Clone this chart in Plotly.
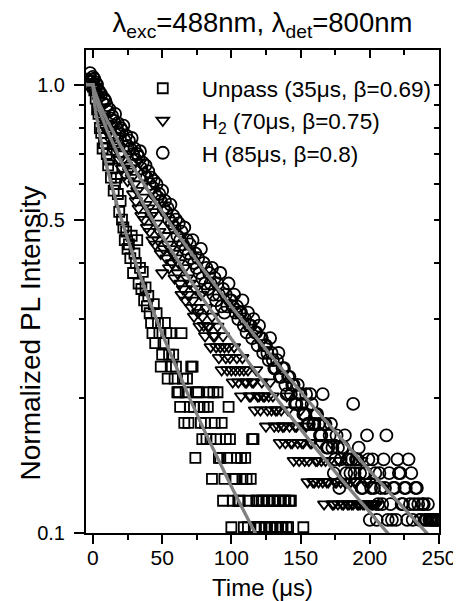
import plotly.graph_objects as go

# ---------------- data ----------------
# Unpassivated (squares): even times, then odd times
t_unpass = [-4, -2, 0, 2, 4, 6, 8, 10, 12, 14, 16, 18, 20, 22, 24, 26, 28, 30, 32, 34,
            36, 38, 40, 42, 44, 46, 48, 50, 52, 54, 56, 58, 60, 62, 64, 66, 68, 70, 72, 74,
            76, 78, 80, 82, 84, 86, 88, 90, 92, 94, 96, 98, 100, 102, 104, 106, 108, 110,
            112, 114, 116, 118, 120, 122, 124, 126, 128, 130, 132, 134, 136, 138, 140, 142, 152,
            1, 3, 5, 7, 9, 11, 13, 15, 17, 19, 21, 23, 25, 27, 29, 31, 33, 35, 37, 39, 41, 43,
            45, 47, 49, 51, 53, 55, 57, 59, 61, 63, 65, 67, 69, 71, 73, 75, 77, 79, 81, 83, 85,
            87, 89, 91, 93, 95, 97, 99, 101, 103, 105, 107, 109, 111, 113, 115, 117, 119, 121,
            123, 125, 127, 129, 131, 133, 135, 137, 139, 141, 143]
i_unpass = [1.00, 1.03, 0.99, 0.93, 0.86, 0.78, 0.74, 0.70, 0.68, 0.65, 0.60, 0.57, 0.55, 0.48,
            0.47, 0.44, 0.46, 0.42, 0.45, 0.39, 0.382, 0.353, 0.338, 0.294, 0.324, 0.309, 0.279,
            0.250, 0.294, 0.221, 0.279, 0.250, 0.235, 0.206, 0.279, 0.176, 0.221, 0.191, 0.235,
            0.147, 0.206, 0.176, 0.191, 0.162, 0.206, 0.132, 0.176, 0.206, 0.147, 0.118, 0.162,
            0.191, 0.103, 0.132, 0.147, 0.118, 0.132, 0.147, 0.103, 0.132, 0.162, 0.118, 0.103,
            0.118, 0.103, 0.118, 0.103, 0.118, 0.103, 0.118, 0.103, 0.118, 0.103, 0.118, 0.103,
            0.97, 0.88, 0.80, 0.72, 0.76, 0.66, 0.62, 0.58, 0.62, 0.52, 0.50, 0.45, 0.43, 0.41,
            0.38, 0.40, 0.36, 0.35, 0.33, 0.32, 0.309, 0.279, 0.265, 0.294, 0.235, 0.265, 0.279,
            0.250, 0.235, 0.221, 0.206, 0.191, 0.221, 0.206, 0.176, 0.235, 0.191, 0.206, 0.191,
            0.162, 0.176, 0.191, 0.162, 0.206, 0.162, 0.147, 0.176, 0.132, 0.147, 0.162, 0.118,
            0.132, 0.118, 0.147, 0.103, 0.132, 0.118, 0.162, 0.103, 0.118, 0.103, 0.118, 0.103,
            0.118, 0.103, 0.118, 0.103, 0.118, 0.103, 0.118, 0.103, 0.118]

# H2 passivated (down triangles)
t_h2 = [-4, -2, 0, 2, 4, 6, 8, 10, 12, 14, 16, 18, 20, 22, 24, 26, 28, 30, 32, 34, 36, 38,
        40, 42, 44, 46, 48, 50, 52, 54, 56, 58, 60, 62, 64, 66, 68, 70, 72, 74, 76, 78, 80,
        82, 84, 86, 88, 90, 92, 94, 96, 98, 100, 102, 104, 106, 108, 110, 112, 114, 116, 118,
        120, 122, 124, 126, 128, 130, 132, 134, 136, 138, 140, 142, 144, 146, 148, 150, 152,
        154, 156, 158, 160, 162, 164, 166, 168, 170, 172, 174, 176, 178, 180, 182, 184, 186,
        188, 190, 192, 194, 196, 198, 200, 202, 204,
        1, 3, 5, 7, 9, 11, 13, 15, 17, 19, 21, 23, 25, 27, 29, 31, 33, 35, 37, 39, 41, 43,
        45, 47, 49, 51, 53, 55, 57, 59, 61, 63, 65, 67, 69, 71, 73, 75, 77, 79, 81, 83, 85,
        87, 89, 91, 93, 95, 97, 99, 101, 103, 105, 107, 109, 111, 113, 115, 117, 119, 121,
        123, 125, 127, 129, 131, 133, 135, 137, 139, 141, 143, 145, 147, 149, 151, 153, 155,
        157, 159, 161, 163, 165, 167, 169, 171, 173, 175, 177, 179, 181, 183, 185, 187, 189,
        191, 193, 195, 197, 199, 201, 203, 205]
i_h2 = [1.00, 1.03, 1.01, 0.96, 0.92, 0.89, 0.85, 0.82, 0.79, 0.77, 0.74, 0.73, 0.70, 0.68,
        0.66, 0.64, 0.62, 0.60, 0.58, 0.67, 0.56, 0.54, 0.53, 0.51, 0.52, 0.49, 0.47, 0.38,
        0.46, 0.44, 0.43, 0.42, 0.41, 0.40, 0.34, 0.39, 0.37, 0.36, 0.33, 0.35, 0.31, 0.34,
        0.29, 0.318, 0.289, 0.304, 0.275, 0.289, 0.260, 0.275, 0.246, 0.260, 0.231, 0.260,
        0.246, 0.231, 0.246, 0.217, 0.231, 0.202, 0.217, 0.231, 0.202, 0.217, 0.202, 0.188,
        0.217, 0.202, 0.188, 0.173, 0.188, 0.173, 0.202, 0.173, 0.159, 0.173, 0.159, 0.188,
        0.159, 0.173, 0.145, 0.159, 0.130, 0.145, 0.159, 0.130, 0.145, 0.130, 0.159, 0.116,
        0.130, 0.145, 0.116, 0.130, 0.116, 0.130, 0.116, 0.130, 0.116, 0.145, 0.116, 0.116,
        0.130, 0.116, 0.116,
        0.99, 0.95, 0.88, 0.84, 0.80, 0.78, 0.75, 0.71, 0.72, 0.68, 0.65, 0.63, 0.61, 0.65,
        0.57, 0.55, 0.53, 0.51, 0.50, 0.48, 0.47, 0.45, 0.44, 0.45, 0.42, 0.43, 0.41, 0.39,
        0.40, 0.37, 0.38, 0.36, 0.35, 0.33, 0.34, 0.318, 0.304, 0.318, 0.289, 0.304, 0.275,
        0.289, 0.260, 0.275, 0.260, 0.246, 0.231, 0.260, 0.231, 0.246, 0.217, 0.231, 0.217,
        0.202, 0.231, 0.217, 0.202, 0.217, 0.188, 0.202, 0.188, 0.202, 0.173, 0.202, 0.188,
        0.173, 0.188, 0.159, 0.173, 0.159, 0.188, 0.159, 0.145, 0.173, 0.145, 0.159, 0.145,
        0.130, 0.159, 0.130, 0.145, 0.130, 0.145, 0.116, 0.130, 0.145, 0.116, 0.130, 0.116,
        0.130, 0.116, 0.130, 0.116, 0.116, 0.130, 0.116, 0.116, 0.116, 0.130, 0.116, 0.116,
        0.116, 0.116]

# H passivated (circles)
t_h = [-4, -2, 0, 2, 4, 6, 8, 10, 12, 14, 16, 18, 20, 22, 24, 26, 28, 30, 32, 34, 36, 38,
       40, 42, 44, 46, 48, 50, 52, 54, 56, 58, 60, 62, 64, 66, 68, 70, 72, 74, 76, 78, 80,
       82, 84, 86, 88, 90, 92, 94, 96, 98, 100, 102, 104, 106, 108, 110, 112, 114, 116, 118,
       120, 122, 124, 126, 128, 130, 132, 134, 136, 138, 140, 142, 144, 146, 148, 150, 152,
       154, 156, 158, 160, 162, 164, 166, 168, 170, 172, 174, 176, 178, 180, 182, 184, 186,
       188, 190, 192, 194, 196, 198, 200, 202, 204, 206, 208, 210, 212, 214, 216, 218, 220,
       222, 224, 226, 228, 230, 232, 234, 236, 238, 240, 242, 244, 246, 248, 250,
       1, 3, 5, 7, 9, 11, 13, 15, 17, 19, 21, 23, 25, 27, 29, 31, 33, 35, 37, 39, 41, 43,
       45, 47, 49, 51, 53, 55, 57, 59, 61, 63, 65, 67, 69, 71, 73, 75, 77, 79, 81, 83, 85,
       87, 89, 91, 93, 95, 97, 99, 101, 103, 105, 107, 109, 111, 113, 115, 117, 119, 121,
       123, 125, 127, 129, 131, 133, 135, 137, 139, 141, 143, 145, 147, 149, 151, 153, 155,
       157, 159, 161, 163, 165, 167, 169, 171, 173, 175, 177, 179, 181, 183, 185, 187, 189,
       191, 193, 195, 197, 199, 201, 203, 205, 207, 209, 211, 213, 215, 217, 219, 221, 223,
       225, 227, 229, 231, 233, 235, 237, 239, 241, 243, 245, 247, 249]
i_h = [1.02, 1.06, 1.04, 1.01, 0.97, 0.95, 0.93, 0.90, 0.88, 0.85, 0.86, 0.82, 0.80, 0.81,
       0.77, 0.75, 0.76, 0.72, 0.70, 0.71, 0.67, 0.66, 0.64, 0.62, 0.61, 0.60, 0.57, 0.58,
       0.55, 0.53, 0.54, 0.51, 0.50, 0.49, 0.47, 0.48, 0.45, 0.44, 0.45, 0.42, 0.41, 0.43,
       0.40, 0.39, 0.38, 0.39, 0.37, 0.36, 0.38, 0.35, 0.34, 0.36, 0.33, 0.34, 0.32, 0.31,
       0.33, 0.30, 0.31, 0.29, 0.30, 0.28, 0.29, 0.272, 0.262, 0.252, 0.272, 0.243, 0.233,
       0.252, 0.223, 0.233, 0.204, 0.223, 0.214, 0.194, 0.214, 0.204, 0.184, 0.204, 0.175,
       0.194, 0.175, 0.184, 0.165, 0.204, 0.175, 0.155, 0.175, 0.136, 0.165, 0.126, 0.155,
       0.165, 0.146, 0.136, 0.194, 0.146, 0.155, 0.126, 0.136, 0.165, 0.107, 0.146, 0.136,
       0.116, 0.126, 0.146, 0.165, 0.136, 0.107, 0.126, 0.146, 0.136, 0.116, 0.126, 0.146,
       0.136, 0.116, 0.126, 0.107, 0.116, 0.107, 0.116, 0.107, 0.107, 0.107, 0.107,
       1.03, 1.00, 0.96, 0.91, 0.92, 0.87, 0.84, 0.83, 0.80, 0.78, 0.79, 0.75, 0.73, 0.72,
       0.70, 0.68, 0.69, 0.65, 0.63, 0.62, 0.60, 0.59, 0.57, 0.56, 0.55, 0.53, 0.52, 0.50,
       0.49, 0.48, 0.46, 0.45, 0.44, 0.43, 0.42, 0.41, 0.40, 0.39, 0.38, 0.37, 0.36, 0.35,
       0.36, 0.34, 0.33, 0.34, 0.32, 0.31, 0.32, 0.33, 0.32, 0.31, 0.30, 0.31, 0.29, 0.28,
       0.29, 0.272, 0.28, 0.262, 0.272, 0.252, 0.262, 0.243, 0.252, 0.233, 0.243, 0.223,
       0.233, 0.214, 0.223, 0.204, 0.214, 0.194, 0.204, 0.194, 0.184, 0.175, 0.204, 0.175,
       0.184, 0.175, 0.165, 0.175, 0.155, 0.165, 0.155, 0.146, 0.155, 0.146, 0.155, 0.136,
       0.146, 0.146, 0.136, 0.146, 0.136, 0.126, 0.136, 0.146, 0.126, 0.126, 0.107, 0.136,
       0.116, 0.126, 0.107, 0.116, 0.126, 0.107, 0.136, 0.116, 0.126, 0.107, 0.116, 0.107,
       0.126, 0.116, 0.107, 0.116, 0.107, 0.107, 0.107, 0.107, 0.107]

# stretched-exponential fit curves, sampled
fit_t_unpass = [-5, 0, 1, 2, 5, 10, 15, 20, 30, 40, 50, 60, 70, 80, 90, 100, 110, 120]
fit_i_unpass = [1.0, 1.0, 0.918, 0.870, 0.770, 0.656, 0.573, 0.507, 0.407, 0.334, 0.278,
                0.2345, 0.1993, 0.1705, 0.1468, 0.1270, 0.1104, 0.0963]
fit_t_h2 = [-5, 0, 1, 2, 5, 10, 20, 30, 40, 50, 60, 70, 80, 90, 100, 120, 140, 160, 180, 200, 215]
fit_i_h2 = [1.0, 1.0, 0.960, 0.933, 0.871, 0.793, 0.677, 0.589, 0.518, 0.460, 0.410, 0.368,
            0.331, 0.299, 0.2707, 0.2236, 0.1860, 0.1558, 0.1312, 0.1111, 0.0983]
fit_t_h = [-5, 0, 1, 2, 5, 10, 20, 30, 40, 50, 60, 70, 80, 100, 120, 140, 160, 180, 200, 220, 240, 245]
fit_i_h = [1.0, 1.0, 0.972, 0.951, 0.901, 0.835, 0.730, 0.647, 0.579, 0.520, 0.469, 0.425,
           0.386, 0.320, 0.268, 0.225, 0.190, 0.1616, 0.1376, 0.1177, 0.1008, 0.0971]

series_names = ["Unpass (35μs, β=0.69)", "H<sub>2</sub> (70μs, β=0.75)", "H (85μs, β=0.8)"]
x_ticks = [0, 50, 100, 150, 200, 250]
x_minor = [25, 75, 125, 175, 225]
y_ticks = [0.1, 0.5, 1.0]
y_ticktext = ["0.1", "0.5", "1.0"]
y_minor = [0.2, 0.3, 0.4, 0.6, 0.7, 0.8, 0.9]
y_all = [0.1, 0.2, 0.3, 0.4, 0.5, 0.6, 0.7, 0.8, 0.9, 1.0]

FONT = "Liberation Sans, Arial, Helvetica, sans-serif"
X_RANGE = [-5, 250]
Y_RANGE = [-1, 0.077]

fig = go.Figure()

marker_specs = [("square-open", 10), ("triangle-down-open", 11), ("circle-open", 12)]
data_sets = [(t_unpass, i_unpass), (t_h2, i_h2), (t_h, i_h)]
for (tt, ii), (sym, sz), name in zip(data_sets, marker_specs, series_names):
    fig.add_trace(go.Scatter(
        x=tt, y=ii, mode="markers", name=name,
        marker=dict(symbol=sym, size=sz, color="black", line=dict(color="black", width=1.8)),
    ))

for ft, fi in [(fit_t_unpass, fit_i_unpass), (fit_t_h2, fit_i_h2), (fit_t_h, fit_i_h)]:
    fig.add_trace(go.Scatter(
        x=ft, y=fi, mode="lines", showlegend=False,
        line=dict(color="#808080", width=3.3),
    ))

# helper trace for mirrored (inward) top/right axes
fig.add_trace(go.Scatter(x=[100], y=[0.5], xaxis="x2", yaxis="y2", mode="markers",
                         marker=dict(opacity=0), showlegend=False, hoverinfo="skip"))

fig.update_layout(
    width=461, height=601,
    margin=dict(l=78, r=18, t=42, b=70),
    paper_bgcolor="white", plot_bgcolor="white",
    font=dict(family=FONT, color="black"),
    title=dict(text="λ<sub>exc</sub>=488nm, λ<sub>det</sub>=800nm",
               x=0.5, xref="paper", xanchor="center",
               y=0.976, yref="container", yanchor="middle",
               font=dict(size=27.5, family=FONT, color="black")),
    xaxis=dict(range=X_RANGE, showgrid=False, zeroline=False,
               showline=True, linecolor="black", linewidth=2, mirror=False,
               ticks="outside", ticklen=9, tickwidth=2, tickcolor="black",
               tickmode="array", tickvals=x_ticks, ticklabelstandoff=-4,
               tickfont=dict(size=21, family=FONT),
               minor=dict(tickmode="array", tickvals=x_minor, ticks="outside",
                          ticklen=5, tickwidth=2, tickcolor="black"),
               title=dict(text="Time (μs)", font=dict(size=24, family=FONT), standoff=11)),
    xaxis2=dict(range=X_RANGE, overlaying="x", side="top", anchor="y",
                showgrid=False, zeroline=False, showline=True, linecolor="black", linewidth=2,
                ticks="inside", ticklen=8, tickwidth=2, tickcolor="black",
                tickmode="array", tickvals=x_ticks, showticklabels=False,
                minor=dict(tickmode="array", tickvals=x_minor, ticks="inside",
                           ticklen=5, tickwidth=2, tickcolor="black")),
    yaxis=dict(type="log", range=Y_RANGE, showgrid=False, zeroline=False,
               showline=True, linecolor="black", linewidth=2, mirror=False,
               ticks="outside", ticklen=10, tickwidth=2, tickcolor="black",
               tickmode="array", tickvals=y_ticks, ticktext=y_ticktext,
               ticklabelstandoff=5,
               tickfont=dict(size=20, family=FONT),
               minor=dict(tickmode="array", tickvals=y_minor, ticks="outside",
                          ticklen=5, tickwidth=2, tickcolor="black")),
    yaxis2=dict(type="log", range=Y_RANGE, overlaying="y", side="right", anchor="x",
                showgrid=False, zeroline=False, showline=True, linecolor="black", linewidth=2,
                ticks="inside", ticklen=5, tickwidth=2, tickcolor="black",
                tickmode="array", tickvals=y_all, showticklabels=False),
    legend=dict(x=0.107, y=0.9645, xref="paper", yref="paper", xanchor="left", yanchor="top",
                bgcolor="rgba(0,0,0,0)", borderwidth=0, itemwidth=68,
                font=dict(size=22.5, family=FONT, color="black")),
    showlegend=True,
    annotations=[dict(text="Normalized PL Intensity", textangle=-90,
                      x=-0.156, y=0.415, xref="paper", yref="paper",
                      xanchor="center", yanchor="middle", showarrow=False,
                      font=dict(size=28, family=FONT, color="black"))],
)

fig.write_html("out.html")
